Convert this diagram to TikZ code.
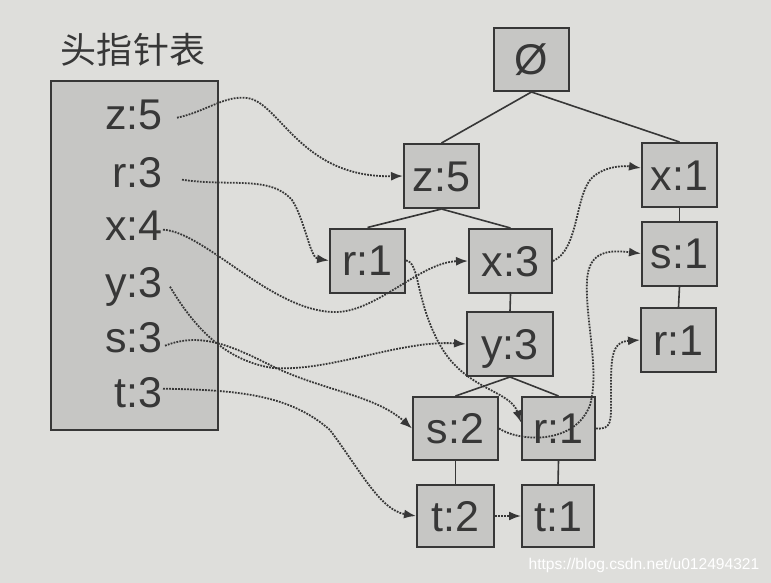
\documentclass[tikz,border=0pt]{standalone}
\usepackage{fontspec}
\setmainfont{Liberation Sans}
\newfontfamily\cjkfont{Noto Sans CJK SC}
\usetikzlibrary{arrows.meta}
\definecolor{paper}{RGB}{222,222,219}
\definecolor{boxfill}{RGB}{198,198,196}
\definecolor{ink}{RGB}{55,55,55}
\begin{document}
\begin{tikzpicture}[x=0.5pt,y=-0.5pt,
  treebox/.style={draw=ink, line width=1pt, fill=boxfill, inner sep=0pt,
    minimum width=37.5pt, minimum height=32pt,
    font=\fontsize{21.5}{21.5}\selectfont, text=ink, text height=15.3pt, text depth=0pt},
  hentry/.style={anchor=base east, inner sep=0pt, font=\fontsize{21.5}{21.5}\selectfont,
    text=ink, text height=15.3pt, text depth=0pt},
  treeline/.style={draw=ink, line width=0.8pt},
  link/.style={draw=ink, line width=0.9pt, dash pattern=on 0.9pt off 0.6pt, -{Latex[length=6pt,width=4.5pt]}},
]
\fill[paper] (0,0) rectangle (771,583);
\useasboundingbox (0,0) rectangle (771,583);

% header table
\node[draw=ink, line width=1pt, fill=boxfill, minimum width=83.5pt, minimum height=174.5pt, inner sep=0pt] (tbl) at (134.5,255.5) {};
\node[font=\cjkfont\fontsize{18}{18}\selectfont, text=ink, inner sep=0pt] (title) at (133,50) {头指针表};
\node[hentry] (hz) at (163,130) {z:5};
\node[hentry] (hr) at (163,187) {r:3};
\node[hentry] (hx) at (163,240) {x:4};
\node[hentry] (hy) at (163,297) {y:3};
\node[hentry] (hs) at (163,352) {s:3};
\node[hentry] (ht) at (163,407) {t:3};

% tree nodes
\node[treebox, minimum height=31.5pt] (root) at (531.5,59.5) {Ø};
\node[treebox] (tz) at (441.5,176) {z:5};
\node[treebox] (tx1) at (679.5,175) {x:1};
\node[treebox] (ts1) at (679.5,253.5) {s:1};
\node[treebox] (trr) at (678.5,340) {r:1};
\node[treebox] (tr1) at (367.5,260.5) {r:1};
\node[treebox, minimum width=41.5pt] (tx3) at (510.5,261) {x:3};
\node[treebox, minimum width=43pt] (ty3) at (510,344) {y:3};
\node[treebox, minimum width=42.5pt, minimum height=31.5pt] (ts2) at (455.5,428.5) {s:2};
\node[treebox, minimum width=36.5pt, minimum height=31.5pt] (tr2) at (558.5,428.5) {r:1};
\node[treebox, minimum width=38.5pt, minimum height=31pt] (tt2) at (455.5,516) {t:2};
\node[treebox, minimum width=36pt, minimum height=31pt] (tt1) at (558,516) {t:1};

% tree edges
\draw[treeline] (root.south) -- (tz.north);
\draw[treeline] (root.south) -- (tx1.north);
\draw[treeline] (tz.south) -- (tr1.north);
\draw[treeline] (tz.south) -- (tx3.north);
\draw[treeline] (tx3.south) -- (ty3.north);
\draw[treeline] (ty3.south) -- (ts2.north);
\draw[treeline] (ty3.south) -- (tr2.north);
\draw[treeline] (ts2.south) -- (tt2.north);
\draw[treeline] (tr2.south) -- (tt1.north);
\draw[treeline] (tx1.south) -- (ts1.north);
\draw[treeline] (ts1.south) -- (trr.north);

% node links
\draw[link] ([shift={(14,3)}]hz.east) .. controls (205,112) and (225,95) .. (247,98)
  .. controls (280,102) and (300,178) .. (tz.west);
\draw[link] ([shift={(19,8)}]hr.east) .. controls (230,187) and (270,175) .. (292,200)
  .. controls (305,220) and (310,258) .. (tr1.west);
\draw[link] ([shift={(0,5)}]hx.east) .. controls (205,232) and (270,310) .. (333,312)
  .. controls (375,314) and (420,262) .. (tx3.west);
\draw[link] ([shift={(7,5)}]hy.east) .. controls (190,320) and (220,360) .. (273,368)
  .. controls (330,372) and (400,340) .. (ty3.west);
\draw[link] ([shift={(2,9)}]hs.east) .. controls (200,332) and (230,345) .. (270,365)
  .. controls (320,390) and (375,395) .. (ts2.west);
\draw[link] ([shift={(0,-3)}]ht.east) .. controls (240,390) and (290,395) .. (330,430)
  .. controls (360,470) and (380,510) .. (tt2.west);
\draw[link] (tr1.east) .. controls (420,262) and (415,300) .. (440,345)
  .. controls (465,390) and (510,390) .. ([yshift=3pt]tr2.west);
\draw[link] (tr2.east) .. controls (612,430) and (611,420) .. (611,400)
  .. controls (611,360) and (610,342) .. (trr.west);
\draw[link] (tx3.east) .. controls (578,250) and (575,200) .. (590,180)
  .. controls (600,168) and (620,165) .. ([yshift=3.5pt]tx1.west);
\draw[link] (ts2.east) .. controls (520,442) and (575,445) .. (590,405)
  .. controls (600,370) and (585,320) .. (587,280)
  .. controls (589,250) and (610,250) .. (ts1.west);
\draw[link] (tt2.east) -- (tt1.west);

% watermark
\node[font=\fontsize{7.8}{8}\selectfont, text=white, inner sep=0pt] (wm) at (644,565) {https://blog.csdn.net/u012494321};
\end{tikzpicture}
\end{document}
